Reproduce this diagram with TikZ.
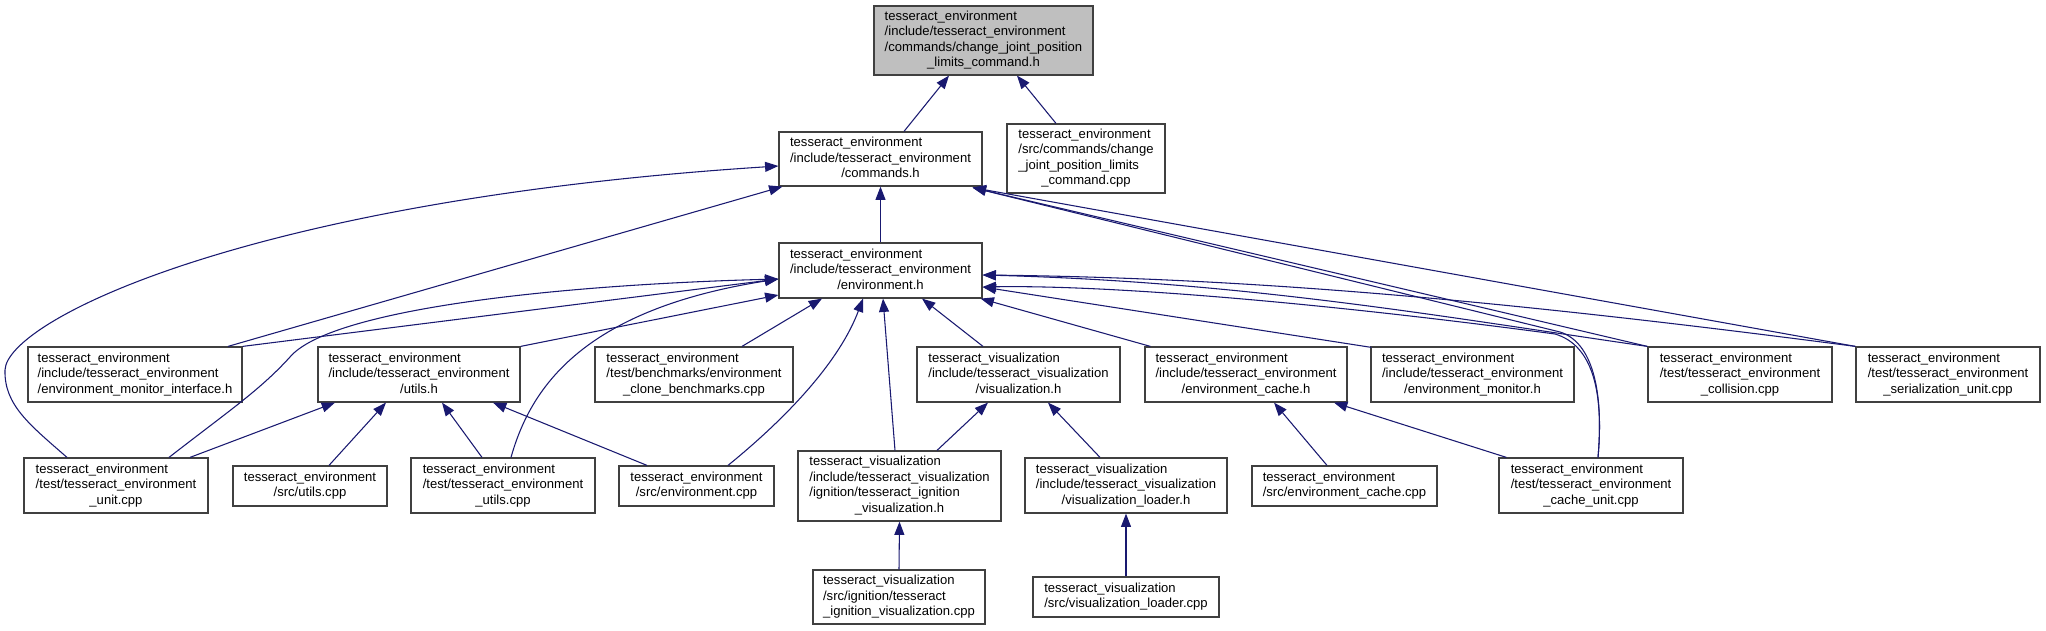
\documentclass[tikz,border=0pt]{standalone}
\usepackage{fontspec}
\setmainfont{Liberation Sans}
\usetikzlibrary{calc,arrows.meta}
\definecolor{edgeblue}{HTML}{191970}
\definecolor{boxline}{HTML}{404040}
\definecolor{rootgray}{HTML}{BFBFBF}
\newcommand\glabel[2]{\begin{tabular}{@{}l@{}}#1\\\multicolumn{1}{@{}c@{}}{#2}\end{tabular}}
\tikzset{
  gnode/.style 2 args={draw=boxline, fill=white, line width=0.9pt, inner sep=0pt,
    minimum width=#1*0.75pt, minimum height=#2*0.75pt,
    font=\fontsize{9.8}{11.6}\selectfont},
  edge/.style={draw=edgeblue, line width=0.8pt, -{Triangle[length=10pt,width=7.5pt]}}
}
\begin{document}
\begin{tikzpicture}[x=0.75pt,y=-0.75pt]
\useasboundingbox (0,0) rectangle (2046,631);
% nodes
\node[gnode={219}{69}, fill=rootgray] (root) at (983.5,40.5)
  {\glabel{tesseract\_environment\\/include/tesseract\_environment\\/commands/change\_joint\_position}{\_limits\_command.h}};
\node[gnode={203}{54}] (cmdh) at (880.5,159)
  {\glabel{tesseract\_environment\\/include/tesseract\_environment}{/commands.h}};
\node[gnode={158}{69}] (cmdcpp) at (1086,158.5)
  {\glabel{tesseract\_environment\\/src/commands/change\\\_joint\_position\_limits}{\_command.cpp}};
\node[gnode={203}{55}] (envh) at (880.5,270.5)
  {\glabel{tesseract\_environment\\/include/tesseract\_environment}{/environment.h}};
\node[gnode={214}{55}] (emi) at (135,374.5)
  {\glabel{tesseract\_environment\\/include/tesseract\_environment}{/environment\_monitor\_interface.h}};
\node[gnode={202}{55}] (utilsh) at (419,374.5)
  {\glabel{tesseract\_environment\\/include/tesseract\_environment}{/utils.h}};
\node[gnode={198}{55}] (bench) at (694,374.5)
  {\glabel{tesseract\_environment\\/test/benchmarks/environment}{\_clone\_benchmarks.cpp}};
\node[gnode={203}{55}] (vish) at (1018.5,374.5)
  {\glabel{tesseract\_visualization\\/include/tesseract\_visualization}{/visualization.h}};
\node[gnode={202}{55}] (ecacheh) at (1246,374.5)
  {\glabel{tesseract\_environment\\/include/tesseract\_environment}{/environment\_cache.h}};
\node[gnode={203}{55}] (emon) at (1472.5,374.5)
  {\glabel{tesseract\_environment\\/include/tesseract\_environment}{/environment\_monitor.h}};
\node[gnode={184}{55}] (coll) at (1740,374.5)
  {\glabel{tesseract\_environment\\/test/tesseract\_environment}{\_collision.cpp}};
\node[gnode={184}{55}] (ser) at (1948,374.5)
  {\glabel{tesseract\_environment\\/test/tesseract\_environment}{\_serialization\_unit.cpp}};
\node[gnode={184}{55}] (unit) at (116,485.5)
  {\glabel{tesseract\_environment\\/test/tesseract\_environment}{\_unit.cpp}};
\node[gnode={154}{40}] (sutils) at (310,486)
  {\glabel{tesseract\_environment}{/src/utils.cpp}};
\node[gnode={184}{55}] (tutils) at (503,485.5)
  {\glabel{tesseract\_environment\\/test/tesseract\_environment}{\_utils.cpp}};
\node[gnode={155}{40}] (envcpp) at (696.5,486)
  {\glabel{tesseract\_environment}{/src/environment.cpp}};
\node[gnode={203}{70}] (ignh) at (899.5,486)
  {\glabel{tesseract\_visualization\\/include/tesseract\_visualization\\/ignition/tesseract\_ignition}{\_visualization.h}};
\node[gnode={202}{55}] (vlh) at (1126,485.5)
  {\glabel{tesseract\_visualization\\/include/tesseract\_visualization}{/visualization\_loader.h}};
\node[gnode={185}{40}] (ecpp) at (1344.5,486)
  {\glabel{tesseract\_environment}{/src/environment\_cache.cpp}};
\node[gnode={184}{55}] (cunit) at (1591,485.5)
  {\glabel{tesseract\_environment\\/test/tesseract\_environment}{\_cache\_unit.cpp}};
\node[gnode={172}{54}] (igncpp) at (899,597)
  {\glabel{tesseract\_visualization\\/src/ignition/tesseract}{\_ignition\_visualization.cpp}};
\node[gnode={186}{40}] (vlcpp) at (1126,597)
  {\glabel{tesseract\_visualization}{/src/visualization\_loader.cpp}};
% edges to root
\draw[edge] ($(cmdh.north)+(23.5,0)$) -- ($(root.south)+(-34.5,0)$);
\draw[edge] ($(cmdcpp.north)+(-30,0)$) -- ($(root.south)+(33.5,0)$);
% edges to commands.h
\draw[edge] (envh.north) -- (cmdh.south);
\draw[edge] ($(emi.north)+(93,0)$) -- ($(cmdh.south west)+(4,0)$);
\draw[edge] ($(unit.north)+(-49,0)$) .. controls (30,425) and (4,405) .. (5,370)
  .. controls (7,320) and (250,200) .. ($(cmdh.west)+(0,7)$);
\draw[edge] (coll.north west) -- ($(cmdh.south east)+(-10,1)$);
\draw[edge] (ser.north west) -- ($(cmdh.south east)+(-10,1)$);
\draw[edge] ($(cunit.north)+(7,0)$) .. controls (1604,390) and (1592,342) .. (1560,332)
  -- ($(cmdh.south east)+(-10,1)$);
% edges to environment.h (right)
\draw[edge] (ser.north west) .. controls (1500,300) and (1250,278) .. ($(envh.east)+(0,4.5)$);
\draw[edge] (coll.north west) .. controls (1450,318) and (1250,282) .. ($(envh.east)+(0,4.5)$);
\draw[edge] ($(cunit.north)+(7,0)$) .. controls (1604,390) and (1592,345) .. (1555,334)
  .. controls (1300,300) and (1100,285) .. ($(envh.east)+(0,16.5)$);
\draw[edge] ($(emon.north west)+(1,1)$) -- ($(envh.east)+(0,16.5)$);
% edges to environment.h (left)
\draw[edge] (emi.north east) -- ($(envh.west)+(0,8.5)$);
\draw[edge] ($(unit.north)+(53,0)$) .. controls (230,410) and (260,390) .. (290,357)
  .. controls (330,310) and (550,285) .. ($(envh.west)+(0,8.5)$);
\draw[edge] ($(tutils.north)+(8,0)$) .. controls (530,390) and (580,310) .. ($(envh.west)+(0,8.5)$);
\draw[edge] (utilsh.north east) -- ($(envh.west)+(0,24.5)$);
% edges to environment.h (bottom)
\draw[edge] ($(bench.north)+(48,0)$) -- ($(envh.south)+(-58.5,0)$);
\draw[edge] ($(envcpp.north)+(31.5,0)$) .. controls (790,415) and (840,360) .. ($(envh.south)+(-17.5,0)$);
\draw[edge] ($(ignh.north)+(-4.5,0)$) -- ($(envh.south)+(2.5,0)$);
\draw[edge] ($(vish.north)+(-35.5,0)$) -- ($(envh.south)+(41.5,0)$);
\draw[edge] ($(ecacheh.north west)+(6,0)$) -- ($(envh.south east)+(-2,0)$);
% other edges
\draw[edge] ($(ignh.north)+(37.5,0)$) -- ($(vish.south)+(-30.5,0)$);
\draw[edge] ($(vlh.north)+(-26,0)$) -- ($(vish.south)+(29.5,0)$);
\draw[edge] ($(ecpp.north)+(-17.5,0)$) -- ($(ecacheh.south)+(28,0)$);
\draw[edge] ($(cunit.north west)+(8,0)$) -- ($(ecacheh.south)+(88,0)$);
\draw[edge] ($(unit.north)+(74,0)$) -- ($(utilsh.south)+(-84,0)$);
\draw[edge] ($(sutils.north)+(19,0)$) -- ($(utilsh.south)+(-33,0)$);
\draw[edge] ($(tutils.north)+(-21,0)$) -- ($(utilsh.south)+(23,0)$);
\draw[edge] ($(envcpp.north)+(-49.5,0)$) -- ($(utilsh.south)+(74,0)$);
\draw[edge] (igncpp.north) -- (ignh.south);
\draw[edge] (vlcpp.north) -- (vlh.south);
\end{tikzpicture}
\end{document}
